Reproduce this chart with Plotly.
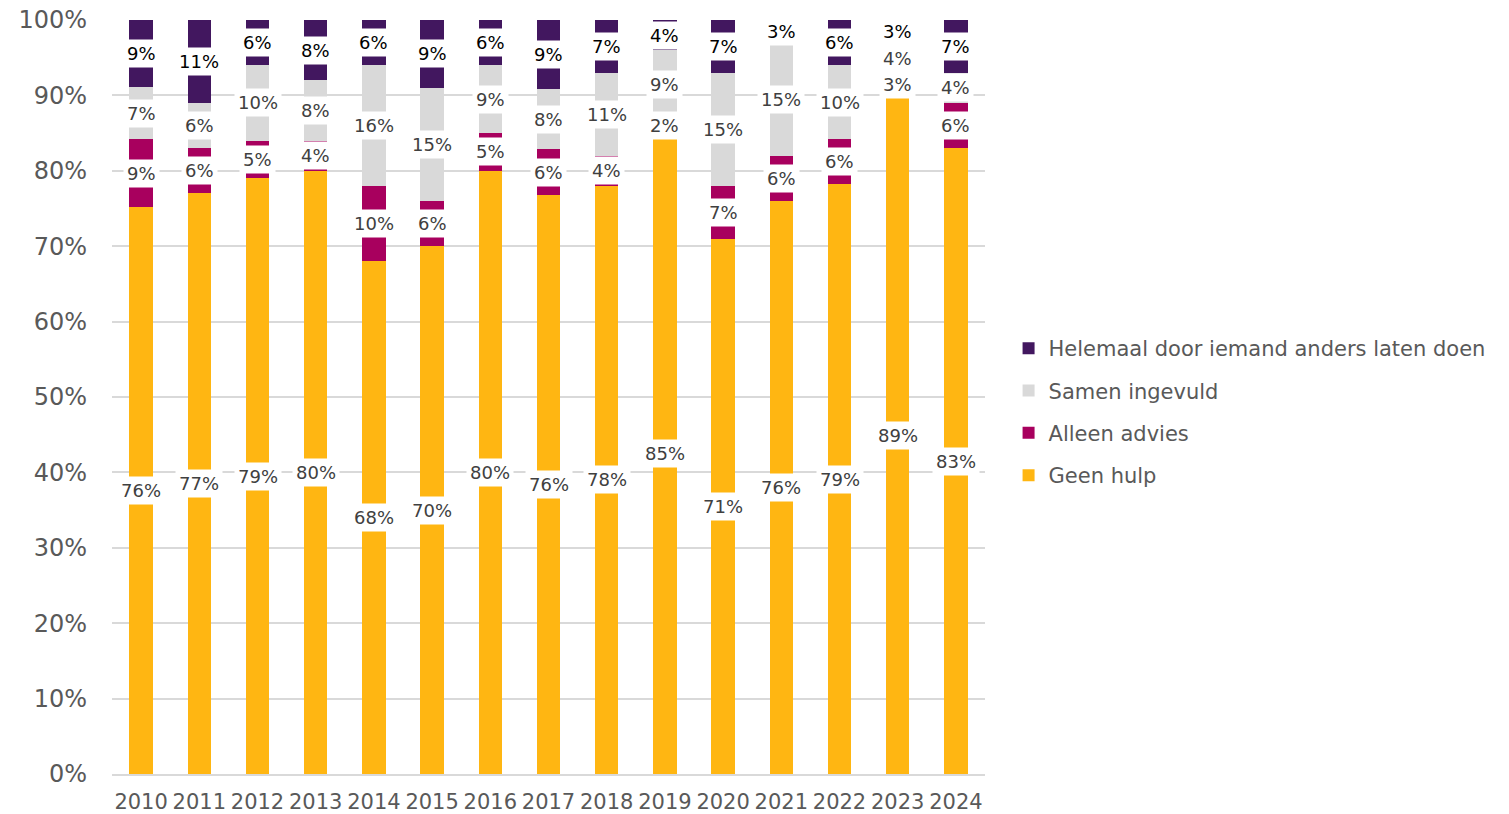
import plotly.graph_objects as go

jaren = [str(j) for j in range(2010, 2025)]
geen_hulp = [76, 77, 79, 80, 68, 70, 80, 76, 78, 85, 71, 76, 79, 89, 83]
alleen_advies = [9, 6, 5, 4, 10, 6, 5, 6, 4, 2, 7, 6, 6, 3, 6]
samen_ingevuld = [7, 6, 10, 8, 16, 15, 9, 8, 11, 9, 15, 15, 10, 4, 4]
helemaal_anders = [9, 11, 6, 8, 6, 9, 6, 9, 7, 4, 7, 3, 6, 3, 7]

reeksen = [
    ("Geen hulp", geen_hulp, "#FFB612", "#404040"),
    ("Alleen advies", alleen_advies, "#A8005E", "#404040"),
    ("Samen ingevuld", samen_ingevuld, "#D9D9D9", "#404040"),
    ("Helemaal door iemand anders laten doen", helemaal_anders, "#42175F", "#000000"),
]

fig = go.Figure()
for k, (naam, waarden, kleur, _) in enumerate(reeksen):
    fig.add_trace(go.Bar(x=jaren, y=waarden, name=naam, marker_color=kleur,
                         marker_line_width=0, legendgroup=naam,
                         legendrank=len(reeksen) - k))

# labels met witte achtergrond in het midden van elk segment
# (x als categorie-index, anders leest plotly "2010" als index 2010)
totalen = [sum(r[1][i] for r in reeksen) for i in range(len(jaren))]
basis = [0.0] * len(jaren)
for naam, waarden, kleur, tekstkleur in reeksen:
    for i in range(len(jaren)):
        h = waarden[i] / totalen[i] * 100
        fig.add_annotation(x=i, y=basis[i] + h / 2, text=f"{waarden[i]}%",
                           showarrow=False, bgcolor="white", borderpad=3,
                           font=dict(size=18, color=tekstkleur))
        basis[i] += h

# pagina heeft 8px body-marge, dus figuur iets kleiner
fig.update_layout(
    barmode="stack", barnorm="percent", bargap=0.6,
    width=1501, height=806,
    margin=dict(l=104, r=524, t=12, b=40),
    plot_bgcolor="white", paper_bgcolor="white",
    font=dict(family="DejaVu Sans", color="#595959"),
    legend=dict(x=1.027, y=0.48, yanchor="middle", traceorder="grouped",
                font=dict(size=21, color="#595959"), itemwidth=30,
                tracegroupgap=12),
    showlegend=True,
)
fig.update_yaxes(range=[0, 100], dtick=10, ticksuffix="%", showgrid=True,
                 gridcolor="#D9D9D9", gridwidth=2, zeroline=False, automargin=False,
                 tickfont=dict(size=24, color="#595959"), ticks="",
                 ticklabelstandoff=24, ticklabeloverflow="allow")
fig.update_xaxes(type="category", range=[-0.5, len(jaren) - 0.5], automargin=False,
                 showline=True, linecolor="#D9D9D9", linewidth=2,
                 tickfont=dict(size=21, color="#595959"), ticklabelstandoff=8,
                 ticklabeloverflow="allow")

fig.write_html("out.html")
